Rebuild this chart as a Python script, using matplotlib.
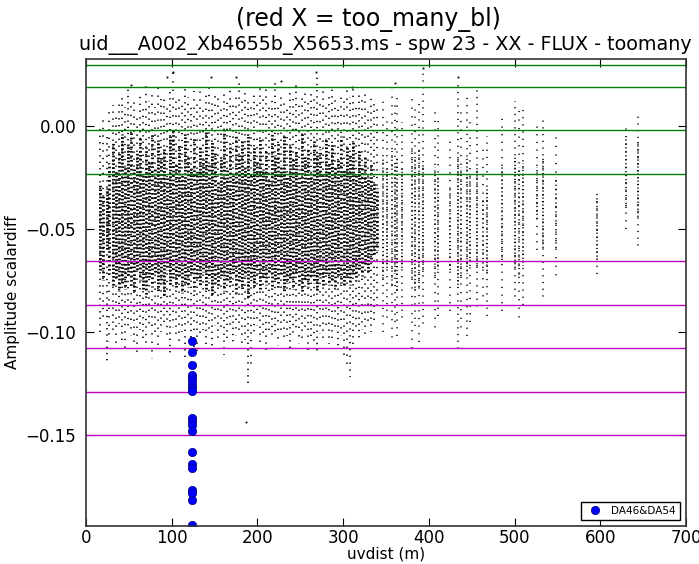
import numpy as np
import matplotlib
matplotlib.use("Agg")
import matplotlib.pyplot as plt

# ---------------- data ----------------
# dense baselines: uvdist, upper tail, upper core, lower core, lower tail
dense_uv = [16, 20, 24, 27, 31, 35, 38, 42, 45, 49, 52, 56, 59, 63, 66, 70, 73, 77, 80, 84,
            87, 91, 94, 98, 101, 105, 108, 112, 115, 119, 122, 126, 129, 133, 136, 140, 143,
            147, 150, 154, 157, 161, 164, 168, 171, 175, 178, 182, 185, 189, 192, 196, 199,
            203, 206, 210, 213, 217, 220, 224, 227, 231, 234, 238, 241, 245, 248, 252, 255,
            259, 262, 266, 269, 273, 276, 280, 283, 287, 290, 294, 297, 301, 304, 308, 311,
            315, 318, 322, 325, 329, 332, 336, 340]
dense_top = [0.000, 0.005, -0.005, 0.008, 0.010, 0.006, 0.012, 0.015, 0.009, 0.018, 0.011,
             0.014, 0.007, 0.016, 0.010, 0.020, 0.012, 0.017, 0.009, 0.022, 0.013, 0.015,
             0.011, 0.019, 0.026, 0.012, 0.016, 0.010, 0.018, 0.014, 0.011, 0.017, 0.013,
             0.020, 0.010, 0.015, 0.022, 0.012, 0.018, 0.014, 0.010, 0.016, 0.013, 0.019,
             0.011, 0.015, 0.021, 0.012, 0.017, 0.014, 0.010, 0.016, 0.012, 0.019, 0.013,
             0.018, 0.011, 0.015, 0.022, 0.012, 0.016, 0.014, 0.010, 0.017, 0.013, 0.020,
             0.011, 0.015, 0.018, 0.012, 0.016, 0.014, 0.025, 0.012, 0.017, 0.011, 0.015,
             0.019, 0.013, 0.010, 0.016, 0.012, 0.018, 0.014, 0.020, 0.011, 0.015, 0.013,
             0.017, 0.010, 0.014, 0.012, 0.008]
dense_hi = [-0.028, -0.034, -0.030, -0.018, -0.008, -0.022, -0.012, -0.004, -0.019, -0.009,
            -0.002, -0.021, -0.013, -0.006, -0.024, -0.010, -0.017, -0.003, -0.020, -0.007,
            -0.015, -0.011, -0.025, -0.005, -0.001, -0.018, -0.009, -0.023, -0.004, -0.014,
            -0.020, -0.006, -0.022, -0.010, -0.016, -0.003, -0.019, -0.008, -0.012, -0.026,
            -0.015, -0.002, -0.021, -0.009, -0.024, -0.005, -0.013, -0.007, -0.020, -0.004,
            -0.023, -0.010, -0.017, -0.006, -0.021, -0.011, -0.026, -0.003, -0.014, -0.008,
            -0.019, -0.005, -0.024, -0.009, -0.016, -0.012, -0.021, -0.004, -0.015, -0.010,
            -0.022, -0.007, -0.013, -0.011, -0.024, -0.006, -0.018, -0.009, -0.020, -0.016,
            -0.005, -0.021, -0.010, -0.014, -0.008, -0.023, -0.012, -0.019, -0.015, -0.025,
            -0.018, -0.027, -0.030]
dense_lo = [-0.070, -0.075, -0.060, -0.072, -0.078, -0.074, -0.080, -0.076, -0.079, -0.073,
            -0.077, -0.081, -0.070, -0.075, -0.079, -0.083, -0.074, -0.078, -0.072, -0.080,
            -0.076, -0.082, -0.070, -0.077, -0.074, -0.079, -0.073, -0.081, -0.076, -0.078,
            -0.072, -0.080, -0.075, -0.077, -0.071, -0.079, -0.074, -0.082, -0.076, -0.078,
            -0.073, -0.080, -0.075, -0.077, -0.072, -0.081, -0.076, -0.079, -0.073, -0.083,
            -0.075, -0.078, -0.072, -0.080, -0.074, -0.077, -0.071, -0.079, -0.075, -0.078,
            -0.073, -0.080, -0.076, -0.074, -0.079, -0.072, -0.077, -0.081, -0.075, -0.078,
            -0.073, -0.076, -0.080, -0.074, -0.078, -0.072, -0.077, -0.075, -0.079, -0.073,
            -0.076, -0.078, -0.074, -0.077, -0.072, -0.075, -0.070, -0.073, -0.068, -0.071,
            -0.066, -0.062, -0.060]
dense_bot = [-0.100, -0.095, -0.115, -0.105, -0.100, -0.108, -0.096, -0.104, -0.110, -0.098,
             -0.102, -0.106, -0.112, -0.099, -0.103, -0.108, -0.097, -0.113, -0.101, -0.109,
             -0.100, -0.095, -0.104, -0.111, -0.098, -0.102, -0.107, -0.100, -0.112, -0.098,
             -0.104, -0.115, -0.110, -0.103, -0.099, -0.106, -0.101, -0.108, -0.097, -0.104,
             -0.100, -0.111, -0.103, -0.099, -0.106, -0.102, -0.100, -0.108, -0.104, -0.125,
             -0.118, -0.101, -0.097, -0.106, -0.103, -0.109, -0.099, -0.104, -0.101, -0.107,
             -0.100, -0.105, -0.102, -0.108, -0.103, -0.099, -0.106, -0.104, -0.100, -0.109,
             -0.102, -0.107, -0.110, -0.101, -0.104, -0.099, -0.106, -0.103, -0.100, -0.108,
             -0.102, -0.112, -0.118, -0.122, -0.106, -0.100, -0.104, -0.099, -0.102, -0.097,
             -0.100, -0.094, -0.090]

# sparse (long) baselines: uvdist, upper tail, upper core, lower core, lower tail
sparse_uv = [347, 351, 357, 360, 363, 369, 380, 384, 388, 393, 407, 411, 425, 434, 438, 445,
             448, 456, 463, 468, 485, 500, 505, 510, 526, 533, 548, 596, 630, 644]
sparse_top = [0.012, 0.005, 0.018, 0.010, 0.015, 0.002, 0.016, 0.008, 0.012, 0.026, 0.010,
              0.005, -0.005, 0.022, 0.008, 0.015, 0.003, 0.020, -0.010, -0.005, 0.005, 0.012,
              0.008, 0.010, 0.000, 0.005, -0.005, -0.030, 0.000, 0.005]
sparse_hi = [-0.015, -0.020, -0.012, -0.018, -0.015, -0.020, -0.010, -0.015, -0.012, -0.018,
             -0.020, -0.025, -0.030, -0.015, -0.020, -0.015, -0.025, -0.020, -0.035, -0.030,
             -0.020, -0.015, -0.020, -0.018, -0.020, -0.015, -0.025, -0.035, -0.005, -0.008]
sparse_lo = [-0.075, -0.070, -0.078, -0.072, -0.080, -0.070, -0.075, -0.080, -0.078, -0.072,
             -0.075, -0.070, -0.070, -0.078, -0.075, -0.072, -0.068, -0.070, -0.070, -0.072,
             -0.065, -0.070, -0.075, -0.068, -0.045, -0.060, -0.060, -0.065, -0.040, -0.045]
sparse_bot = [-0.100, -0.095, -0.105, -0.098, -0.102, -0.095, -0.110, -0.100, -0.105, -0.098,
              -0.100, -0.095, -0.090, -0.110, -0.100, -0.105, -0.095, -0.090, -0.085, -0.095,
              -0.090, -0.085, -0.095, -0.090, -0.060, -0.085, -0.075, -0.075, -0.050, -0.060]

# isolated points
outlier_uv = [53, 95, 101, 146, 175, 227, 268, 310, 360, 393, 434, 187]
outlier_amp = [0.020, 0.024, 0.026, 0.024, 0.024, 0.022, 0.026, 0.019, 0.021, 0.028, 0.024, -0.1436]

# flagged baseline DA46&DA54
flag_uv = [124] * 20
flag_amp = [-0.1043, -0.1095, -0.1159, -0.1208, -0.1222, -0.1240, -0.1256, -0.1271, -0.1289,
            -0.1416, -0.1434, -0.1450, -0.1483, -0.1585, -0.1639, -0.1659, -0.1765, -0.1780,
            -0.1814, -0.1935]
flag_label = "DA46&DA54"

# threshold lines
green_levels = [0.0296, 0.0189, -0.0019, -0.0233]
magenta_levels = [-0.0655, -0.0869, -0.1078, -0.1291, -0.1500]

title_top = "(red X = too_many_bl)"
title_sub = "uid___A002_Xb4655b_X5653.ms - spw 23 - XX - FLUX - toomany"
xticks = [0, 100, 200, 300, 400, 500, 600, 700]
yticks = [-0.15, -0.10, -0.05, 0.00]

# ---------------- drawing ----------------
fig = plt.figure(figsize=(6.99, 5.64), dpi=100)
ax = fig.add_axes([86 / 699, 1 - 526 / 564, 600 / 699, 467 / 564])

# dash patterns with varied phase so dots don't line up in rows
tail_styles = [(o, (0.8, d)) for o, d in [(0, 3.1), (1.3, 3.7), (2.1, 2.9), (0.6, 4.3),
                                          (2.9, 3.4), (1.7, 4.0), (0.3, 3.3)]]
core_styles = [(o, (0.6, d)) for o, d in [(0, 0.7), (0.45, 0.9), (0.9, 0.6), (0.2, 1.0),
                                          (0.7, 0.8), (1.1, 0.65), (0.35, 0.85)]]
sparse_tail_styles = [(o, (0.8, d)) for o, d in [(0, 4.2), (1.5, 3.6), (2.6, 4.8), (0.8, 3.9)]]
sparse_core_styles = [(o, (0.8, d)) for o, d in [(0, 1.8), (0.9, 1.5), (1.6, 2.1), (0.4, 1.7)]]

ax.vlines(dense_uv, dense_bot, dense_top, colors="k", linewidths=1.2,
          linestyles=tail_styles)
ax.vlines(dense_uv, dense_lo, dense_hi, colors="k", linewidths=2.0,
          linestyles=core_styles)
ax.vlines(sparse_uv, sparse_bot, sparse_top, colors="k", linewidths=1.1,
          linestyles=sparse_tail_styles)
ax.vlines(sparse_uv, sparse_lo, sparse_hi, colors="k", linewidths=1.1,
          linestyles=sparse_core_styles)
ax.plot(outlier_uv, outlier_amp, "s", color="k", ms=1.3, mew=0)

for lv in green_levels:
    ax.axhline(lv, color=(0, 0.5, 0), lw=1)
for lv in magenta_levels:
    ax.axhline(lv, color=(0.75, 0, 0.75), lw=1)

ax.plot(flag_uv, flag_amp, "o", color="blue", mec=(0, 0, 0.45), mew=0.5, ms=6,
        label=flag_label, clip_on=True)

ax.set_xlim(0, 700)
ax.set_ylim(-0.1942, 0.0325)
ax.set_xticks(xticks)
ax.set_yticks(yticks)
ax.set_yticklabels(["\u22120.15", "\u22120.10", "\u22120.05", "0.00"])
ax.tick_params(axis="both", direction="in", top=True, right=True, length=6, labelsize=12)
ax.tick_params(axis="x", pad=2)
ax.tick_params(axis="y", pad=7)
for sp in ax.spines.values():
    sp.set_linewidth(1.2)
    sp.set_color("#333333")

ax.set_xlabel("uvdist (m)", fontsize=11, labelpad=0)
ax.set_ylabel("Amplitude scalardiff", fontsize=11, labelpad=4)

leg = ax.legend(loc="lower right", numpoints=1, fontsize=7.5, fancybox=False,
                borderaxespad=0.6, handletextpad=0.6, borderpad=0.35, framealpha=1)
leg.get_frame().set_edgecolor("black")
leg.get_frame().set_linewidth(1.0)

fig.text(368 / 699, 1 - 20 / 564, title_top, ha="center", va="center", fontsize=17)
fig.text(385 / 699, 1 - 45 / 564, title_sub, ha="center", va="center", fontsize=13.8)

fig.savefig("out.png", dpi=100)
